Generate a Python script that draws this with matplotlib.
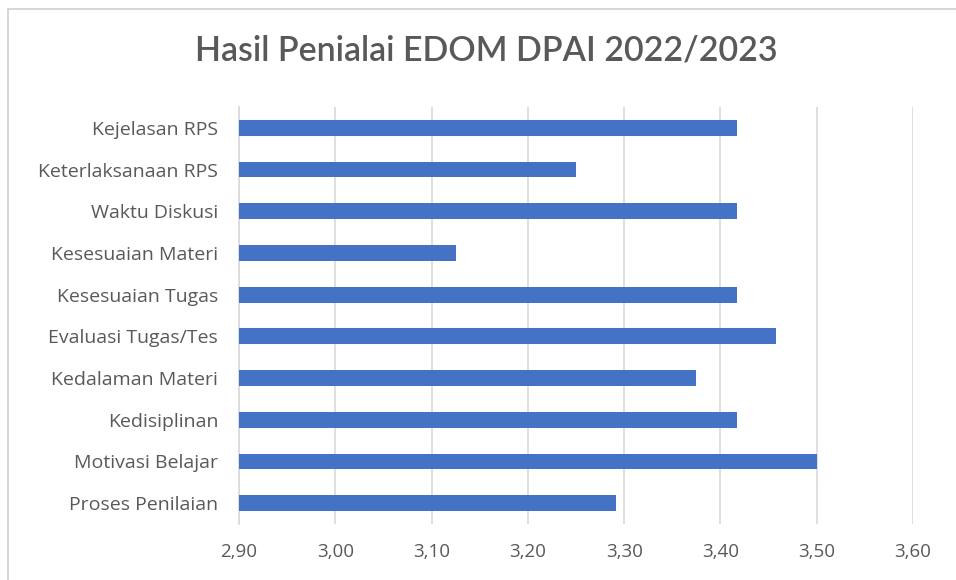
import matplotlib
matplotlib.use("Agg")
import matplotlib.pyplot as plt
from matplotlib.patches import Rectangle
from matplotlib.ticker import FixedLocator, FuncFormatter

categories = ["Kejelasan RPS", "Keterlaksanaan RPS", "Waktu Diskusi", "Kesesuaian Materi",
              "Kesesuaian Tugas", "Evaluasi Tugas/Tes", "Kedalaman Materi", "Kedisiplinan",
              "Motivasi Belajar", "Proses Penilaian"]
values = [3.417, 3.25, 3.417, 3.125, 3.417, 3.458, 3.375, 3.417, 3.50, 3.292]
x_ticks = [2.90, 3.00, 3.10, 3.20, 3.30, 3.40, 3.50, 3.60]
title = "Hasil Penialai EDOM DPAI 2022/2023"

plt.rcParams['font.family'] = ['Lato', 'DejaVu Sans']
TXT = '#595959'
LABEL_FONT = ['Open Sans', 'DejaVu Sans']

fig = plt.figure(figsize=(9.56, 5.8), dpi=100)
W, H = 956, 580

# chart frame
fig.patches.append(Rectangle((8 / W, -0.2), 1.2, 0.2 + (H - 9) / H, transform=fig.transFigure,
                             facecolor='white', edgecolor='#D0D0D0', linewidth=1.2, zorder=-5))

ax = fig.add_axes([239 / W, 1 - 524 / H, (913 - 239) / W, (524 - 107) / H])
ax.set_zorder(2)
ypos = list(range(len(categories)))
ax.barh(ypos, values, left=0, height=0.38, color='#4472C4', zorder=3)
ax.set_xlim(2.90, 3.60)
ax.set_ylim(len(categories) - 0.5, -0.5)
ax.set_yticks(ypos)
ax.set_yticklabels(categories, fontsize=14, color=TXT, family=LABEL_FONT)
ax.xaxis.set_major_locator(FixedLocator(x_ticks))
ax.xaxis.set_major_formatter(FuncFormatter(lambda v, p: f"{v:.2f}".replace('.', ',')))
ax.tick_params(axis='x', colors=TXT, length=0, pad=14)
for t in ax.get_xticklabels():
    t.set_fontsize(13.5)
    t.set_family(LABEL_FONT)
ax.tick_params(axis='y', length=0, pad=15)
ax.grid(axis='x', color='#D9D9D9', linewidth=1.2, zorder=0)
ax.set_axisbelow(True)
for s in ['top', 'right', 'bottom']:
    ax.spines[s].set_visible(False)
ax.spines['left'].set_color('#D9D9D9')
ax.spines['left'].set_linewidth(1.2)
ax.set_facecolor('none')

fig.text(486 / W, 1 - 51 / H, title, ha='center', va='center', fontsize=24.5,
         color=TXT, fontweight='semibold')

fig.savefig('out.png', dpi=100)
